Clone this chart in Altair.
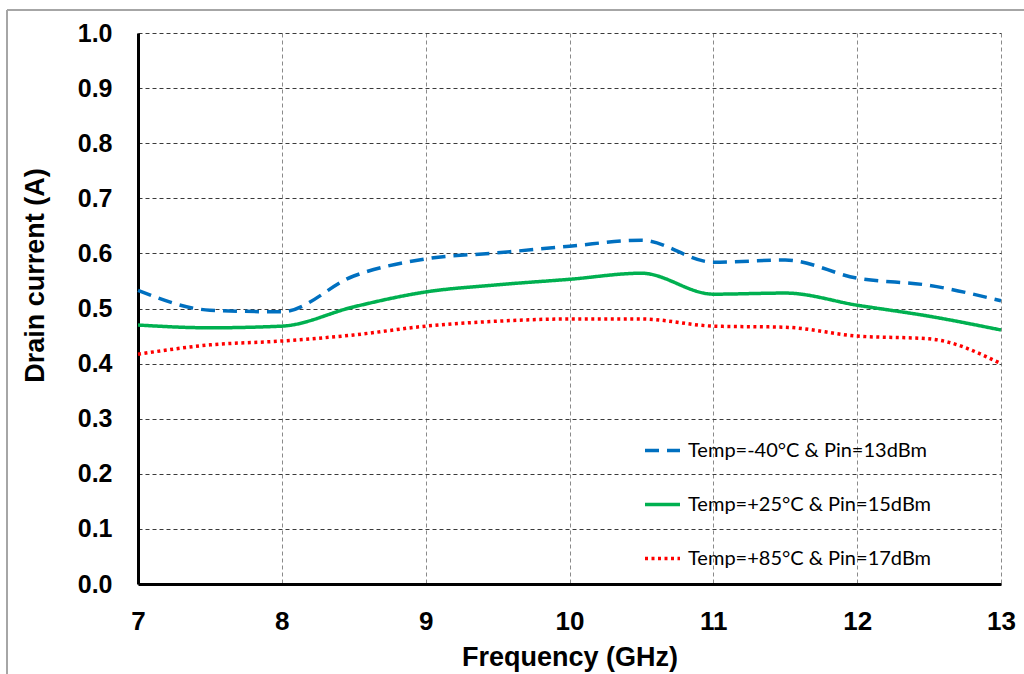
import altair as alt
import pandas as pd

freq = [7.0, 7.5, 8.0, 8.5, 9.0, 9.5, 10.0, 10.5, 11.0, 11.5, 12.0, 12.5, 13.0]
cold = [0.533, 0.497, 0.494, 0.559, 0.590, 0.601, 0.613, 0.624, 0.584, 0.588, 0.555, 0.542, 0.514]
room = [0.470, 0.465, 0.468, 0.503, 0.530, 0.543, 0.553, 0.564, 0.526, 0.528, 0.506, 0.486, 0.461]
hot = [0.417, 0.434, 0.441, 0.452, 0.468, 0.477, 0.481, 0.481, 0.468, 0.466, 0.450, 0.445, 0.400]

series_names = [
    "Temp=-40°C & Pin=13dBm",
    "Temp=+25°C & Pin=15dBm",
    "Temp=+85°C & Pin=17dBm",
]
series_colors = ["#0070C0", "#00B050", "#FF0000"]
series_dash = [[14, 8], [1, 0], [3, 3.5]]

rows = []
for name, vals in zip(series_names, [cold, room, hot]):
    for f, v in zip(freq, vals):
        rows.append({"Frequency": f, "Current": v, "Series": name})
df = pd.DataFrame(rows)

W, H = 863, 551
PAD_L, PAD_T, PAD_R, PAD_B = 138, 33, 23, 90

lines = alt.Chart(df).mark_line(interpolate="monotone", strokeWidth=3.5).encode(
    x=alt.X(
        "Frequency:Q",
        scale=alt.Scale(domain=[7, 13], nice=False),
        axis=alt.Axis(
            values=[7, 8, 9, 10, 11, 12, 13],
            format="d",
            title="Frequency (GHz)",
            grid=True,
            gridColor="#8a8a8a",
            gridDash=[4, 3],
            gridWidth=1,
            ticks=False,
            domainColor="#000000",
            domainWidth=3,
            labelFont="Liberation Sans",
            labelFontWeight="bold",
            labelFontSize=26,
            labelColor="#000000",
            labelPadding=24,
            labelFlush=False,
            labelOverlap=False,
            titleFont="Liberation Sans",
            titleFontWeight="bold",
            titleFontSize=27,
            titleColor="#000000",
            titleX=W / 2,
            titleY=73,
            titleBaseline="middle",
            titleAlign="center",
        ),
    ),
    y=alt.Y(
        "Current:Q",
        scale=alt.Scale(domain=[0, 1], nice=False),
        axis=alt.Axis(
            values=[0, 0.1, 0.2, 0.3, 0.4, 0.5, 0.6, 0.7, 0.8, 0.9, 1.0],
            format=".1f",
            title="Drain current (A)",
            grid=True,
            gridColor="#3a3a3a",
            gridDash=[4, 3],
            gridWidth=1,
            ticks=False,
            domainColor="#000000",
            domainWidth=3,
            labelFont="Liberation Sans",
            labelFontWeight="bold",
            labelFontSize=25,
            labelColor="#000000",
            labelPadding=26,
            labelFlush=False,
            labelOverlap=False,
            titleFont="Liberation Sans",
            titleFontWeight="bold",
            titleFontSize=27,
            titleColor="#000000",
            titleX=-103,
            titleY=242,
            titleAngle=270,
            titleBaseline="middle",
            titleAlign="center",
        ),
    ),
    color=alt.Color(
        "Series:N",
        scale=alt.Scale(domain=series_names, range=series_colors),
        legend=alt.Legend(
            title=None,
            orient="none",
            legendX=505,
            legendY=398,
            symbolType="stroke",
            symbolSize=1225,
            symbolStrokeWidth=3.5,
            labelFont="Lato",
            labelFontSize=20,
            labelColor="#000000",
            labelOffset=6,
            labelLimit=0,
            rowPadding=24,
        ),
    ),
    strokeDash=alt.StrokeDash(
        "Series:N",
        scale=alt.Scale(domain=series_names, range=series_dash),
        legend=None,
    ),
)

# outer chart-area border (partially visible in the reference)
border_h = alt.Chart(df).mark_rule(color="#a6a6a6", strokeWidth=1.5).encode(
    x=alt.value(-131), x2=alt.value(W + PAD_R), y=alt.value(-23)
)
border_v = alt.Chart(df).mark_rule(color="#a6a6a6", strokeWidth=1.5).encode(
    x=alt.value(-131), y=alt.value(-23), y2=alt.value(H + PAD_B)
)

chart = (
    alt.layer(border_h, border_v, lines)
    .properties(
        width=W,
        height=H,
        autosize=alt.AutoSizeParams(type="none"),
        padding={"left": PAD_L, "top": PAD_T, "right": PAD_R, "bottom": PAD_B},
        background="#ffffff",
    )
    .configure_view(stroke=None)
)

chart.save("out.html", embed_options={"renderer": "svg", "actions": False})
